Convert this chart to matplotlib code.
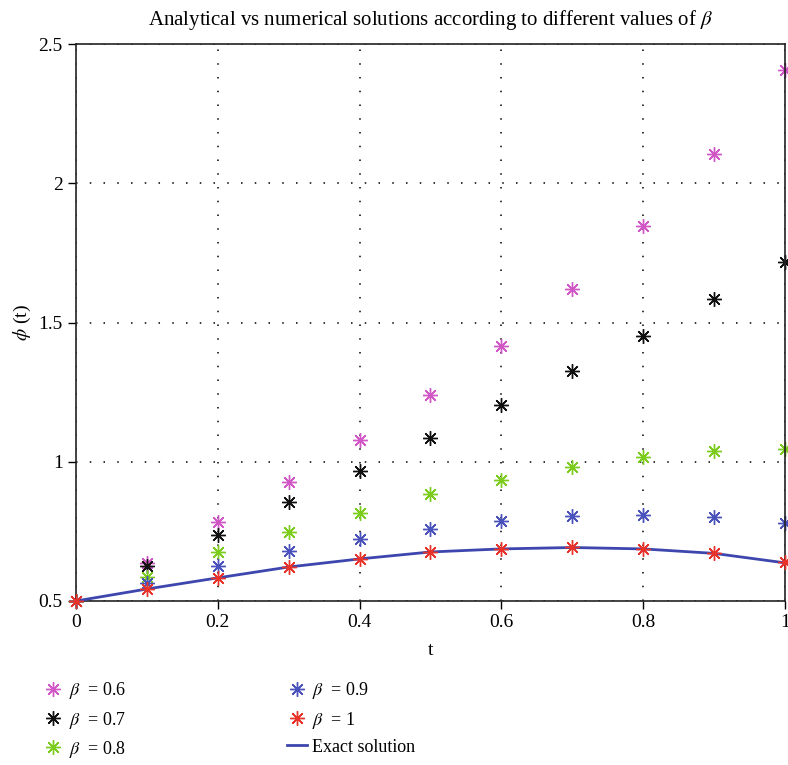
import matplotlib
matplotlib.use('Agg')
import matplotlib.pyplot as plt
import numpy as np

plt.rcParams['font.family'] = ['Liberation Serif', 'DejaVu Serif']
plt.rcParams['mathtext.fontset'] = 'stix'

t = [0, 0.1, 0.2, 0.3, 0.4, 0.5, 0.6, 0.7, 0.8, 0.9, 1.0]

beta_06 = [0.5, 0.637, 0.784, 0.928, 1.079, 1.241, 1.417, 1.619, 1.845, 2.104, 2.406]
beta_07 = [0.5, 0.626, 0.737, 0.856, 0.968, 1.086, 1.205, 1.327, 1.450, 1.583, 1.716]
beta_08 = [0.5, 0.586, 0.676, 0.748, 0.817, 0.885, 0.935, 0.982, 1.018, 1.040, 1.047]
beta_09 = [0.5, 0.565, 0.626, 0.680, 0.723, 0.759, 0.788, 0.806, 0.809, 0.802, 0.780]
beta_10 = [0.5, 0.543, 0.583, 0.622, 0.651, 0.676, 0.687, 0.694, 0.687, 0.673, 0.640]
exact   = [0.5, 0.543, 0.583, 0.622, 0.651, 0.676, 0.687, 0.692, 0.687, 0.671, 0.637]

xticks = [0, 0.2, 0.4, 0.6, 0.8, 1]
xticklabels = ['0', '0.2', '0.4', '0.6', '0.8', '1']
yticks = [0.5, 1, 1.5, 2, 2.5]
yticklabels = ['0.5', '1', '1.5', '2', '2.5']

fig = plt.figure(figsize=(7.88, 7.65), dpi=100)
ax = fig.add_axes([0.0964, 0.2144, 0.8996, 0.728])

star = (8, 2, 0)
ms = 10.5
mw = 1.0
ax.plot(t, beta_06, linestyle='none', marker=star, ms=ms, mec='#d257c6', mew=mw, label=r'$\beta$  = 0.6', clip_on=False)
ax.plot(t, beta_07, linestyle='none', marker=star, ms=ms, mec='#111111', mew=mw, label=r'$\beta$  = 0.7', clip_on=False)
ax.plot(t, beta_08, linestyle='none', marker=star, ms=ms, mec='#7ccc1e', mew=mw, label=r'$\beta$  = 0.8', clip_on=False)
ax.plot(t, beta_09, linestyle='none', marker=star, ms=ms, mec='#4a52bb', mew=mw, label=r'$\beta$  = 0.9', clip_on=False)
ax.plot(t, exact, color='#3d46ad', lw=2, label='Exact solution', zorder=3)
ax.plot(t, beta_10, linestyle='none', marker=star, ms=ms, mec='#e8332b', mew=mw, label=r'$\beta$  = 1', clip_on=False, zorder=4)

ax.set_xlim(0, 1)
ax.set_ylim(0.5, 2.5)
ax.set_xticks(xticks)
ax.set_xticklabels(xticklabels)
ax.set_yticks(yticks)
ax.set_yticklabels(yticklabels)
ax.tick_params(direction='out', length=6, width=1, labelsize=14, top=False, right=False, colors='black')
ax.grid(True, color='black', linestyle=(0, (1, 8)), linewidth=1.1)
for s in ax.spines.values():
    s.set_linewidth(1.2)
    s.set_color('#222222')

ax.set_xlabel('t', fontsize=14, labelpad=8)
ax.set_ylabel(r'$\phi$ (t)', fontsize=14)
ax.set_title(r'Analytical vs numerical solutions according to different values of $\beta$', fontsize=15, pad=14)

h, l = ax.get_legend_handles_labels()
order = [0, 1, 2, 3, 5, 4]
fig.legend([h[i] for i in order], [l[i] for i in order], ncol=2, frameon=False,
           loc='upper left', bbox_to_anchor=(0.055, 0.1105), fontsize=13,
           borderpad=0, borderaxespad=0,
           columnspacing=8.9, handlelength=1.1, handletextpad=0.3, labelspacing=0.45)

fig.savefig('out.png', dpi=100)
